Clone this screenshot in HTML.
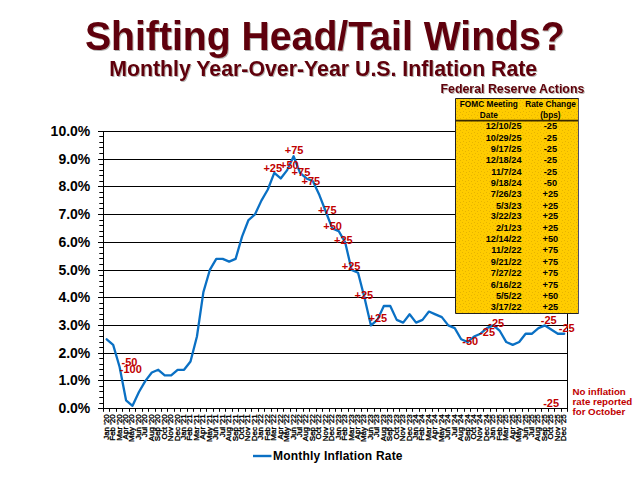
<!DOCTYPE html>
<html><head><meta charset="utf-8">
<style>
html,body{margin:0;padding:0;background:#fff;width:640px;height:480px;overflow:hidden}
svg{display:block;font-family:"Liberation Sans",sans-serif;font-weight:bold}
.g{stroke:#000;stroke-width:1;fill:none}
.yl{font-size:14px;text-anchor:end;fill:#000}
.xl{font-size:8px;font-weight:normal;text-anchor:end;fill:#000;stroke:#000;stroke-width:0.35px}
.ln{fill:none;stroke:#0A70C4;stroke-width:2.3;stroke-linejoin:round;stroke-linecap:round}
.rl{font-size:11px;fill:#C00000}
.td{font-size:9.2px;fill:#000}
.th{font-size:8.3px;fill:#000;text-anchor:middle}
.t1{font-size:40.4px;fill:#5E0408}
.t2{font-size:21.3px;fill:#5E0408}
.t3{font-size:12.36px;fill:#5E0408}
.no{font-size:9.7px;fill:#C00000}
</style></head><body>
<svg width="640" height="480" viewBox="0 0 640 480">
<defs>
<filter id="sh" x="-5%" y="-20%" width="110%" height="150%"><feGaussianBlur in="SourceAlpha" stdDeviation="0.6"/><feOffset dx="1.2" dy="1.2"/><feComponentTransfer><feFuncA type="linear" slope="0.3"/></feComponentTransfer><feMerge><feMergeNode/><feMergeNode in="SourceGraphic"/></feMerge></filter>
<pattern id="dots" x="0" y="0" width="6" height="6" patternUnits="userSpaceOnUse"><g fill="#C89800" fill-opacity="0.45"><rect x="0" y="0" width="1" height="1"/><rect x="3" y="1" width="1" height="1"/><rect x="1" y="3" width="1" height="1"/><rect x="4" y="4" width="1" height="1"/></g></pattern>
</defs>
<g filter="url(#sh)">
<text transform="translate(84.9,49.9) scale(0.970,1)" class="t1">Shifting Head/Tail Winds?</text>
<text x="109.2" y="75.6" class="t2">Monthly Year-Over-Year U.S. Inflation Rate</text>
<text x="440.5" y="93" class="t3">Federal Reserve Actions</text>
</g>
<line x1="103.5" y1="380.5" x2="567.5" y2="380.5" class="g"/>
<line x1="103.5" y1="353.5" x2="567.5" y2="353.5" class="g"/>
<line x1="103.5" y1="325.5" x2="567.5" y2="325.5" class="g"/>
<line x1="103.5" y1="297.5" x2="567.5" y2="297.5" class="g"/>
<line x1="103.5" y1="270.5" x2="567.5" y2="270.5" class="g"/>
<line x1="103.5" y1="242.5" x2="567.5" y2="242.5" class="g"/>
<line x1="103.5" y1="214.5" x2="567.5" y2="214.5" class="g"/>
<line x1="103.5" y1="186.5" x2="567.5" y2="186.5" class="g"/>
<line x1="103.5" y1="159.5" x2="567.5" y2="159.5" class="g"/>
<line x1="103.5" y1="131.5" x2="567.5" y2="131.5" class="g"/>
<line x1="98" y1="408.5" x2="103.5" y2="408.5" class="g"/>
<line x1="99.3" y1="403.5" x2="103.5" y2="403.5" class="g"/>
<line x1="99.3" y1="397.5" x2="103.5" y2="397.5" class="g"/>
<line x1="99.3" y1="391.5" x2="103.5" y2="391.5" class="g"/>
<line x1="99.3" y1="386.5" x2="103.5" y2="386.5" class="g"/>
<line x1="98" y1="380.5" x2="103.5" y2="380.5" class="g"/>
<line x1="99.3" y1="375.5" x2="103.5" y2="375.5" class="g"/>
<line x1="99.3" y1="369.5" x2="103.5" y2="369.5" class="g"/>
<line x1="99.3" y1="364.5" x2="103.5" y2="364.5" class="g"/>
<line x1="99.3" y1="358.5" x2="103.5" y2="358.5" class="g"/>
<line x1="98" y1="353.5" x2="103.5" y2="353.5" class="g"/>
<line x1="99.3" y1="347.5" x2="103.5" y2="347.5" class="g"/>
<line x1="99.3" y1="342.5" x2="103.5" y2="342.5" class="g"/>
<line x1="99.3" y1="336.5" x2="103.5" y2="336.5" class="g"/>
<line x1="99.3" y1="330.5" x2="103.5" y2="330.5" class="g"/>
<line x1="98" y1="325.5" x2="103.5" y2="325.5" class="g"/>
<line x1="99.3" y1="319.5" x2="103.5" y2="319.5" class="g"/>
<line x1="99.3" y1="314.5" x2="103.5" y2="314.5" class="g"/>
<line x1="99.3" y1="308.5" x2="103.5" y2="308.5" class="g"/>
<line x1="99.3" y1="303.5" x2="103.5" y2="303.5" class="g"/>
<line x1="98" y1="297.5" x2="103.5" y2="297.5" class="g"/>
<line x1="99.3" y1="292.5" x2="103.5" y2="292.5" class="g"/>
<line x1="99.3" y1="286.5" x2="103.5" y2="286.5" class="g"/>
<line x1="99.3" y1="281.5" x2="103.5" y2="281.5" class="g"/>
<line x1="99.3" y1="275.5" x2="103.5" y2="275.5" class="g"/>
<line x1="98" y1="270.5" x2="103.5" y2="270.5" class="g"/>
<line x1="99.3" y1="264.5" x2="103.5" y2="264.5" class="g"/>
<line x1="99.3" y1="258.5" x2="103.5" y2="258.5" class="g"/>
<line x1="99.3" y1="253.5" x2="103.5" y2="253.5" class="g"/>
<line x1="99.3" y1="247.5" x2="103.5" y2="247.5" class="g"/>
<line x1="98" y1="242.5" x2="103.5" y2="242.5" class="g"/>
<line x1="99.3" y1="236.5" x2="103.5" y2="236.5" class="g"/>
<line x1="99.3" y1="231.5" x2="103.5" y2="231.5" class="g"/>
<line x1="99.3" y1="225.5" x2="103.5" y2="225.5" class="g"/>
<line x1="99.3" y1="220.5" x2="103.5" y2="220.5" class="g"/>
<line x1="98" y1="214.5" x2="103.5" y2="214.5" class="g"/>
<line x1="99.3" y1="208.5" x2="103.5" y2="208.5" class="g"/>
<line x1="99.3" y1="203.5" x2="103.5" y2="203.5" class="g"/>
<line x1="99.3" y1="197.5" x2="103.5" y2="197.5" class="g"/>
<line x1="99.3" y1="192.5" x2="103.5" y2="192.5" class="g"/>
<line x1="98" y1="186.5" x2="103.5" y2="186.5" class="g"/>
<line x1="99.3" y1="181.5" x2="103.5" y2="181.5" class="g"/>
<line x1="99.3" y1="175.5" x2="103.5" y2="175.5" class="g"/>
<line x1="99.3" y1="170.5" x2="103.5" y2="170.5" class="g"/>
<line x1="99.3" y1="164.5" x2="103.5" y2="164.5" class="g"/>
<line x1="98" y1="159.5" x2="103.5" y2="159.5" class="g"/>
<line x1="99.3" y1="153.5" x2="103.5" y2="153.5" class="g"/>
<line x1="99.3" y1="147.5" x2="103.5" y2="147.5" class="g"/>
<line x1="99.3" y1="142.5" x2="103.5" y2="142.5" class="g"/>
<line x1="99.3" y1="136.5" x2="103.5" y2="136.5" class="g"/>
<line x1="98" y1="131.5" x2="103.5" y2="131.5" class="g"/>
<text x="90.3" y="413.1" class="yl">0.0%</text>
<text x="90.3" y="385.1" class="yl">1.0%</text>
<text x="90.3" y="358.1" class="yl">2.0%</text>
<text x="90.3" y="330.1" class="yl">3.0%</text>
<text x="90.3" y="302.1" class="yl">4.0%</text>
<text x="90.3" y="275.1" class="yl">5.0%</text>
<text x="90.3" y="247.1" class="yl">6.0%</text>
<text x="90.3" y="219.1" class="yl">7.0%</text>
<text x="90.3" y="191.1" class="yl">8.0%</text>
<text x="90.3" y="164.1" class="yl">9.0%</text>
<text x="90.3" y="136.1" class="yl">10.0%</text>
<line x1="103.5" y1="131" x2="103.5" y2="409" class="g"/>
<line x1="567.5" y1="131" x2="567.5" y2="409" class="g"/>
<line x1="103.0" y1="408.5" x2="568.0" y2="408.5" class="g"/>
<line x1="103.5" y1="408.5" x2="103.5" y2="411.8" class="g"/>
<line x1="109.5" y1="408.5" x2="109.5" y2="411.8" class="g"/>
<line x1="116.5" y1="408.5" x2="116.5" y2="411.8" class="g"/>
<line x1="122.5" y1="408.5" x2="122.5" y2="411.8" class="g"/>
<line x1="129.5" y1="408.5" x2="129.5" y2="411.8" class="g"/>
<line x1="135.5" y1="408.5" x2="135.5" y2="411.8" class="g"/>
<line x1="142.5" y1="408.5" x2="142.5" y2="411.8" class="g"/>
<line x1="148.5" y1="408.5" x2="148.5" y2="411.8" class="g"/>
<line x1="155.5" y1="408.5" x2="155.5" y2="411.8" class="g"/>
<line x1="161.5" y1="408.5" x2="161.5" y2="411.8" class="g"/>
<line x1="167.5" y1="408.5" x2="167.5" y2="411.8" class="g"/>
<line x1="174.5" y1="408.5" x2="174.5" y2="411.8" class="g"/>
<line x1="180.5" y1="408.5" x2="180.5" y2="411.8" class="g"/>
<line x1="187.5" y1="408.5" x2="187.5" y2="411.8" class="g"/>
<line x1="193.5" y1="408.5" x2="193.5" y2="411.8" class="g"/>
<line x1="200.5" y1="408.5" x2="200.5" y2="411.8" class="g"/>
<line x1="206.5" y1="408.5" x2="206.5" y2="411.8" class="g"/>
<line x1="213.5" y1="408.5" x2="213.5" y2="411.8" class="g"/>
<line x1="219.5" y1="408.5" x2="219.5" y2="411.8" class="g"/>
<line x1="225.5" y1="408.5" x2="225.5" y2="411.8" class="g"/>
<line x1="232.5" y1="408.5" x2="232.5" y2="411.8" class="g"/>
<line x1="238.5" y1="408.5" x2="238.5" y2="411.8" class="g"/>
<line x1="245.5" y1="408.5" x2="245.5" y2="411.8" class="g"/>
<line x1="251.5" y1="408.5" x2="251.5" y2="411.8" class="g"/>
<line x1="258.5" y1="408.5" x2="258.5" y2="411.8" class="g"/>
<line x1="264.5" y1="408.5" x2="264.5" y2="411.8" class="g"/>
<line x1="271.5" y1="408.5" x2="271.5" y2="411.8" class="g"/>
<line x1="277.5" y1="408.5" x2="277.5" y2="411.8" class="g"/>
<line x1="283.5" y1="408.5" x2="283.5" y2="411.8" class="g"/>
<line x1="290.5" y1="408.5" x2="290.5" y2="411.8" class="g"/>
<line x1="296.5" y1="408.5" x2="296.5" y2="411.8" class="g"/>
<line x1="303.5" y1="408.5" x2="303.5" y2="411.8" class="g"/>
<line x1="309.5" y1="408.5" x2="309.5" y2="411.8" class="g"/>
<line x1="316.5" y1="408.5" x2="316.5" y2="411.8" class="g"/>
<line x1="322.5" y1="408.5" x2="322.5" y2="411.8" class="g"/>
<line x1="329.5" y1="408.5" x2="329.5" y2="411.8" class="g"/>
<line x1="335.5" y1="408.5" x2="335.5" y2="411.8" class="g"/>
<line x1="341.5" y1="408.5" x2="341.5" y2="411.8" class="g"/>
<line x1="348.5" y1="408.5" x2="348.5" y2="411.8" class="g"/>
<line x1="354.5" y1="408.5" x2="354.5" y2="411.8" class="g"/>
<line x1="361.5" y1="408.5" x2="361.5" y2="411.8" class="g"/>
<line x1="367.5" y1="408.5" x2="367.5" y2="411.8" class="g"/>
<line x1="374.5" y1="408.5" x2="374.5" y2="411.8" class="g"/>
<line x1="380.5" y1="408.5" x2="380.5" y2="411.8" class="g"/>
<line x1="387.5" y1="408.5" x2="387.5" y2="411.8" class="g"/>
<line x1="393.5" y1="408.5" x2="393.5" y2="411.8" class="g"/>
<line x1="399.5" y1="408.5" x2="399.5" y2="411.8" class="g"/>
<line x1="406.5" y1="408.5" x2="406.5" y2="411.8" class="g"/>
<line x1="412.5" y1="408.5" x2="412.5" y2="411.8" class="g"/>
<line x1="419.5" y1="408.5" x2="419.5" y2="411.8" class="g"/>
<line x1="425.5" y1="408.5" x2="425.5" y2="411.8" class="g"/>
<line x1="432.5" y1="408.5" x2="432.5" y2="411.8" class="g"/>
<line x1="438.5" y1="408.5" x2="438.5" y2="411.8" class="g"/>
<line x1="445.5" y1="408.5" x2="445.5" y2="411.8" class="g"/>
<line x1="451.5" y1="408.5" x2="451.5" y2="411.8" class="g"/>
<line x1="457.5" y1="408.5" x2="457.5" y2="411.8" class="g"/>
<line x1="464.5" y1="408.5" x2="464.5" y2="411.8" class="g"/>
<line x1="470.5" y1="408.5" x2="470.5" y2="411.8" class="g"/>
<line x1="477.5" y1="408.5" x2="477.5" y2="411.8" class="g"/>
<line x1="483.5" y1="408.5" x2="483.5" y2="411.8" class="g"/>
<line x1="490.5" y1="408.5" x2="490.5" y2="411.8" class="g"/>
<line x1="496.5" y1="408.5" x2="496.5" y2="411.8" class="g"/>
<line x1="503.5" y1="408.5" x2="503.5" y2="411.8" class="g"/>
<line x1="509.5" y1="408.5" x2="509.5" y2="411.8" class="g"/>
<line x1="515.5" y1="408.5" x2="515.5" y2="411.8" class="g"/>
<line x1="522.5" y1="408.5" x2="522.5" y2="411.8" class="g"/>
<line x1="528.5" y1="408.5" x2="528.5" y2="411.8" class="g"/>
<line x1="535.5" y1="408.5" x2="535.5" y2="411.8" class="g"/>
<line x1="541.5" y1="408.5" x2="541.5" y2="411.8" class="g"/>
<line x1="548.5" y1="408.5" x2="548.5" y2="411.8" class="g"/>
<line x1="554.5" y1="408.5" x2="554.5" y2="411.8" class="g"/>
<line x1="561.5" y1="408.5" x2="561.5" y2="411.8" class="g"/>
<line x1="567.5" y1="408.5" x2="567.5" y2="411.8" class="g"/>
<text transform="translate(108.62,414.3) rotate(-90)" class="xl">Jan '20</text>
<text transform="translate(115.07,414.3) rotate(-90)" class="xl">Feb '20</text>
<text transform="translate(121.51,414.3) rotate(-90)" class="xl">Mar '20</text>
<text transform="translate(127.96,414.3) rotate(-90)" class="xl">Apr '20</text>
<text transform="translate(134.40,414.3) rotate(-90)" class="xl">May '20</text>
<text transform="translate(140.84,414.3) rotate(-90)" class="xl">Jun '20</text>
<text transform="translate(147.29,414.3) rotate(-90)" class="xl">Jul '20</text>
<text transform="translate(153.73,414.3) rotate(-90)" class="xl">Aug '20</text>
<text transform="translate(160.18,414.3) rotate(-90)" class="xl">Sep '20</text>
<text transform="translate(166.62,414.3) rotate(-90)" class="xl">Oct '20</text>
<text transform="translate(173.07,414.3) rotate(-90)" class="xl">Nov '20</text>
<text transform="translate(179.51,414.3) rotate(-90)" class="xl">Dec '20</text>
<text transform="translate(185.96,414.3) rotate(-90)" class="xl">Jan '21</text>
<text transform="translate(192.40,414.3) rotate(-90)" class="xl">Feb '21</text>
<text transform="translate(198.84,414.3) rotate(-90)" class="xl">Mar '21</text>
<text transform="translate(205.29,414.3) rotate(-90)" class="xl">Apr '21</text>
<text transform="translate(211.73,414.3) rotate(-90)" class="xl">May '21</text>
<text transform="translate(218.18,414.3) rotate(-90)" class="xl">Jun '21</text>
<text transform="translate(224.62,414.3) rotate(-90)" class="xl">Jul '21</text>
<text transform="translate(231.07,414.3) rotate(-90)" class="xl">Aug '21</text>
<text transform="translate(237.51,414.3) rotate(-90)" class="xl">Sep '21</text>
<text transform="translate(243.96,414.3) rotate(-90)" class="xl">Oct '21</text>
<text transform="translate(250.40,414.3) rotate(-90)" class="xl">Nov '21</text>
<text transform="translate(256.84,414.3) rotate(-90)" class="xl">Dec '21</text>
<text transform="translate(263.29,414.3) rotate(-90)" class="xl">Jan '22</text>
<text transform="translate(269.73,414.3) rotate(-90)" class="xl">Feb '22</text>
<text transform="translate(276.18,414.3) rotate(-90)" class="xl">Mar '22</text>
<text transform="translate(282.62,414.3) rotate(-90)" class="xl">Apr '22</text>
<text transform="translate(289.07,414.3) rotate(-90)" class="xl">May '22</text>
<text transform="translate(295.51,414.3) rotate(-90)" class="xl">Jun '22</text>
<text transform="translate(301.96,414.3) rotate(-90)" class="xl">Jul '22</text>
<text transform="translate(308.40,414.3) rotate(-90)" class="xl">Aug '22</text>
<text transform="translate(314.84,414.3) rotate(-90)" class="xl">Sep '22</text>
<text transform="translate(321.29,414.3) rotate(-90)" class="xl">Oct '22</text>
<text transform="translate(327.73,414.3) rotate(-90)" class="xl">Nov '22</text>
<text transform="translate(334.18,414.3) rotate(-90)" class="xl">Dec '22</text>
<text transform="translate(340.62,414.3) rotate(-90)" class="xl">Jan '23</text>
<text transform="translate(347.07,414.3) rotate(-90)" class="xl">Feb '23</text>
<text transform="translate(353.51,414.3) rotate(-90)" class="xl">Mar '23</text>
<text transform="translate(359.96,414.3) rotate(-90)" class="xl">Apr '23</text>
<text transform="translate(366.40,414.3) rotate(-90)" class="xl">May '23</text>
<text transform="translate(372.84,414.3) rotate(-90)" class="xl">Jun '23</text>
<text transform="translate(379.29,414.3) rotate(-90)" class="xl">Jul '23</text>
<text transform="translate(385.73,414.3) rotate(-90)" class="xl">Aug '23</text>
<text transform="translate(392.18,414.3) rotate(-90)" class="xl">Sep '23</text>
<text transform="translate(398.62,414.3) rotate(-90)" class="xl">Oct '23</text>
<text transform="translate(405.07,414.3) rotate(-90)" class="xl">Nov '23</text>
<text transform="translate(411.51,414.3) rotate(-90)" class="xl">Dec '23</text>
<text transform="translate(417.96,414.3) rotate(-90)" class="xl">Jan '24</text>
<text transform="translate(424.40,414.3) rotate(-90)" class="xl">Feb '24</text>
<text transform="translate(430.84,414.3) rotate(-90)" class="xl">Mar '24</text>
<text transform="translate(437.29,414.3) rotate(-90)" class="xl">Apr '24</text>
<text transform="translate(443.73,414.3) rotate(-90)" class="xl">May '24</text>
<text transform="translate(450.18,414.3) rotate(-90)" class="xl">Jun '24</text>
<text transform="translate(456.62,414.3) rotate(-90)" class="xl">Jul '24</text>
<text transform="translate(463.07,414.3) rotate(-90)" class="xl">Aug '24</text>
<text transform="translate(469.51,414.3) rotate(-90)" class="xl">Sep '24</text>
<text transform="translate(475.96,414.3) rotate(-90)" class="xl">Oct '24</text>
<text transform="translate(482.40,414.3) rotate(-90)" class="xl">Nov '24</text>
<text transform="translate(488.84,414.3) rotate(-90)" class="xl">Dec '24</text>
<text transform="translate(495.29,414.3) rotate(-90)" class="xl">Jan '25</text>
<text transform="translate(501.73,414.3) rotate(-90)" class="xl">Feb '25</text>
<text transform="translate(508.18,414.3) rotate(-90)" class="xl">Mar '25</text>
<text transform="translate(514.62,414.3) rotate(-90)" class="xl">Apr '25</text>
<text transform="translate(521.07,414.3) rotate(-90)" class="xl">May '25</text>
<text transform="translate(527.51,414.3) rotate(-90)" class="xl">Jun '25</text>
<text transform="translate(533.96,414.3) rotate(-90)" class="xl">Jul '25</text>
<text transform="translate(540.40,414.3) rotate(-90)" class="xl">Aug '25</text>
<text transform="translate(546.84,414.3) rotate(-90)" class="xl">Sep '25</text>
<text transform="translate(553.29,414.3) rotate(-90)" class="xl">Oct '25</text>
<text transform="translate(559.73,414.3) rotate(-90)" class="xl">Nov '25</text>
<text transform="translate(566.18,414.3) rotate(-90)" class="xl">Dec '25</text>
<polyline points="106.72,339.28 113.17,344.82 119.61,367.00 126.06,400.28 132.50,405.83 138.94,391.96 145.39,380.87 151.83,372.55 158.28,369.78 164.72,375.32 171.17,375.32 177.61,369.78 184.06,369.78 190.50,361.46 196.94,336.50 203.39,292.13 209.83,269.95 216.28,258.86 222.72,258.86 229.17,261.63 235.61,258.86 242.06,236.67 248.50,220.04 254.94,214.49 261.39,200.63 267.83,189.53 274.28,172.90 280.72,178.44 287.17,170.12 293.61,156.26 300.06,172.90 306.50,178.44 312.94,181.21 319.39,195.08 325.83,211.72 332.28,228.36 338.72,231.13 345.17,242.22 351.61,269.95 358.06,272.72 364.50,297.68 370.94,325.41 377.39,319.86 383.83,306.00 390.28,306.00 396.72,319.86 403.17,322.64 409.61,314.32 416.06,322.64 422.50,319.86 428.94,311.55 435.39,314.32 441.83,317.09 448.28,325.41 454.72,328.18 461.17,339.28 467.61,342.05 474.06,336.50 480.50,333.73 486.94,328.18 493.39,325.41 499.83,330.96 506.28,342.05 512.72,344.82 519.17,342.05 525.61,333.73 532.06,333.73 538.50,328.18 544.94,325.41 557.83,333.73 564.28,333.73" class="ln"/>
<rect x="455.5" y="98.5" width="123" height="215" fill="#FFCC00"/>
<rect x="456" y="99" width="122" height="214" fill="url(#dots)"/>
<path d="M578.5,98.5 H455.5 V313.5 H578.5" fill="none" stroke="#222" stroke-width="1"/><line x1="578.5" y1="98" x2="578.5" y2="314" stroke="#505068" stroke-width="1"/>
<line x1="456" y1="120.6" x2="578" y2="120.6" stroke="#3a2a00" stroke-width="1.6"/>
<text x="488.8" y="106.8" class="th">FOMC Meeting</text>
<text x="488.8" y="117.6" class="th">Date</text>
<text x="550.5" y="106.8" class="th">Rate Change</text>
<text x="550.5" y="117.6" class="th">(bps)</text>
<text x="521.5" y="129.2" class="td" text-anchor="end">12/10/25</text><text x="550.4" y="129.2" class="td" text-anchor="middle">-25</text>
<text x="521.5" y="141.0" class="td" text-anchor="end">10/29/25</text><text x="550.4" y="141.0" class="td" text-anchor="middle">-25</text>
<text x="521.5" y="151.8" class="td" text-anchor="end">9/17/25</text><text x="550.4" y="151.8" class="td" text-anchor="middle">-25</text>
<text x="521.5" y="163.0" class="td" text-anchor="end">12/18/24</text><text x="550.4" y="163.0" class="td" text-anchor="middle">-25</text>
<text x="521.5" y="174.8" class="td" text-anchor="end">11/7/24</text><text x="550.4" y="174.8" class="td" text-anchor="middle">-25</text>
<text x="521.5" y="185.5" class="td" text-anchor="end">9/18/24</text><text x="550.4" y="185.5" class="td" text-anchor="middle">-50</text>
<text x="521.5" y="196.9" class="td" text-anchor="end">7/26/23</text><text x="550.4" y="196.9" class="td" text-anchor="middle">+25</text>
<text x="521.5" y="208.5" class="td" text-anchor="end">5/3/23</text><text x="550.4" y="208.5" class="td" text-anchor="middle">+25</text>
<text x="521.5" y="219.3" class="td" text-anchor="end">3/22/23</text><text x="550.4" y="219.3" class="td" text-anchor="middle">+25</text>
<text x="521.5" y="230.7" class="td" text-anchor="end">2/1/23</text><text x="550.4" y="230.7" class="td" text-anchor="middle">+25</text>
<text x="521.5" y="242.4" class="td" text-anchor="end">12/14/22</text><text x="550.4" y="242.4" class="td" text-anchor="middle">+50</text>
<text x="521.5" y="253.2" class="td" text-anchor="end">11/2/22</text><text x="550.4" y="253.2" class="td" text-anchor="middle">+75</text>
<text x="521.5" y="264.6" class="td" text-anchor="end">9/21/22</text><text x="550.4" y="264.6" class="td" text-anchor="middle">+75</text>
<text x="521.5" y="276.3" class="td" text-anchor="end">7/27/22</text><text x="550.4" y="276.3" class="td" text-anchor="middle">+75</text>
<text x="521.5" y="287.6" class="td" text-anchor="end">6/16/22</text><text x="550.4" y="287.6" class="td" text-anchor="middle">+75</text>
<text x="521.5" y="298.5" class="td" text-anchor="end">5/5/22</text><text x="550.4" y="298.5" class="td" text-anchor="middle">+50</text>
<text x="521.5" y="310.2" class="td" text-anchor="end">3/17/22</text><text x="550.4" y="310.2" class="td" text-anchor="middle">+25</text>
<text x="121.5" y="365.9" class="rl">-50</text>
<text x="119.8" y="373" class="rl">-100</text>
<text x="284.8" y="153.9" class="rl">+75</text>
<text x="263.4" y="171.8" class="rl">+25</text>
<text x="280.0" y="169.0" class="rl">+50</text>
<text x="291.6" y="175.5" class="rl">+75</text>
<text x="301.5" y="185.0" class="rl">+75</text>
<text x="317.9" y="213.9" class="rl">+75</text>
<text x="323.3" y="229.8" class="rl">+50</text>
<text x="334.0" y="244.1" class="rl">+25</text>
<text x="341.8" y="269.8" class="rl">+25</text>
<text x="354.5" y="298.8" class="rl">+25</text>
<text x="368.5" y="321.8" class="rl">+25</text>
<text x="462.3" y="344.7" class="rl">-50</text>
<text x="479.2" y="336.0" class="rl">-25</text>
<text x="488.3" y="327.0" class="rl">-25</text>
<text x="540.8" y="323.7" class="rl">-25</text>
<text x="558.8" y="331.8" class="rl">-25</text>
<text x="543.2" y="406.7" class="rl">-25</text>
<text x="572.5" y="395.4" class="no">No inflation</text>
<text x="572.5" y="405.4" class="no">rate reported</text>
<text x="572.5" y="415.3" class="no">for October</text>
<line x1="253" y1="456" x2="271.5" y2="456" stroke="#0A70C4" stroke-width="2.4"/>
<text x="273" y="460" style="font-size:12px;fill:#000;letter-spacing:0.2px">Monthly Inflation Rate</text>
</svg>
</body></html>
